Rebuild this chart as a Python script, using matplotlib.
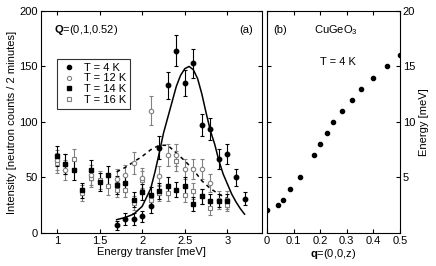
import matplotlib
matplotlib.use('Agg')
import matplotlib.pyplot as plt
from matplotlib.lines import Line2D
import numpy as np

plt.rcParams['font.family'] = ['Liberation Sans', 'DejaVu Sans']
plt.rcParams['font.size'] = 8
plt.rcParams['mathtext.fontset'] = 'custom'
plt.rcParams['mathtext.rm'] = 'Liberation Sans'
plt.rcParams['mathtext.bf'] = 'Liberation Sans:bold'

# panel (a): intensity vs energy transfer
e4 = [1.7, 1.8, 1.9, 2.0, 2.1, 2.2, 2.3, 2.4, 2.5, 2.6, 2.7, 2.8, 2.9, 3.0, 3.1, 3.2]
i4 = [7, 12.6, 12.6, 15, 24, 77, 133, 164, 135, 153, 97, 94, 67, 71, 50, 31]
err4 = [4, 5, 5, 5, 6, 10, 12, 14, 12, 13, 10, 10, 9, 9, 8, 6]

e12 = [1.0, 1.1, 1.4, 1.7, 1.8, 1.9, 2.0, 2.1, 2.2, 2.3, 2.4, 2.5, 2.6, 2.7, 2.8, 2.9, 3.0]
i12 = [66, 57, 52.5, 48.6, 52.5, 63, 49.5, 110, 51, 70.6, 70.6, 58, 58, 58, 45, 30, 30]
err12 = [9, 9, 9, 9, 9, 10, 9, 13, 9, 10, 10, 9, 9, 9, 8, 8, 8]

e14 = [1.0, 1.1, 1.2, 1.3, 1.4, 1.5, 1.6, 1.7, 1.8, 1.9, 2.0, 2.1, 2.2, 2.3, 2.4, 2.5, 2.6, 2.7, 2.8, 2.9, 3.0]
i14 = [69.7, 62.5, 56.5, 38.4, 57, 46, 52, 43, 45, 30, 37, 34.5, 38, 42, 39, 42, 26, 33, 29, 29, 29]
err14 = [9, 9, 9, 7, 9, 8, 8, 8, 8, 7, 7, 7, 7, 8, 7, 8, 6, 7, 6, 6, 6]

e16 = [1.0, 1.1, 1.2, 1.3, 1.4, 1.5, 1.6, 1.7, 1.8, 1.9, 2.0, 2.1, 2.2, 2.3, 2.4, 2.5, 2.6, 2.7, 2.8, 3.0]
i16 = [63, 62, 66.7, 36, 49.5, 48, 42, 39, 39, 27, 48, 30, 36, 36, 64.6, 34.5, 38, 33, 22.5, 25.5]
err16 = [9, 9, 9, 7, 8, 8, 8, 7, 7, 6, 8, 6, 7, 7, 9, 7, 7, 7, 6, 6]

# fit curves
fit4_e = [1.7, 1.8, 1.9, 2.0, 2.1, 2.15, 2.2, 2.25, 2.3, 2.35, 2.4, 2.45, 2.5, 2.55,
          2.6, 2.65, 2.7, 2.75, 2.8, 2.85, 2.9, 2.95, 3.0, 3.05, 3.1, 3.15, 3.2]
fit4_i = [12, 14, 17, 24, 40, 55, 72, 90, 104, 118, 132, 142, 148, 150,
          147, 139, 125, 108, 92, 80, 65, 53, 44, 35, 28, 22, 17]
fit12_e = [1.7, 1.8, 1.9, 2.0, 2.1, 2.2, 2.3, 2.4, 2.5, 2.6, 2.7, 2.8, 2.9, 3.0]
fit12_i = [55, 59, 64, 69, 75, 79, 79, 72, 65, 57, 47, 40, 35, 31]

# panel (b): dispersion
qz = [0, 0.04, 0.062, 0.088, 0.125, 0.175, 0.2, 0.225, 0.25, 0.283, 0.32, 0.355, 0.4, 0.45, 0.5]
energy = [2.1, 2.5, 3, 4, 5, 7, 8, 9, 10, 11, 12, 13, 14, 15, 16]

fig = plt.figure(figsize=(4.36, 2.66), dpi=100)
ax = fig.add_axes([0.0933, 0.124, 0.5067, 0.835])
bx = fig.add_axes([0.6124, 0.124, 0.3050, 0.835])

gray = '#808080'
kw = dict(elinewidth=0.8, capsize=1.5, capthick=0.8, linestyle='none')
ax.errorbar(e16, i16, yerr=err16, fmt='s', ms=3.5, mfc='white', mec=gray, ecolor=gray,
            mew=0.8, **kw)
ax.errorbar(e12, i12, yerr=err12, fmt='o', ms=3.2, mfc='white', mec=gray, ecolor=gray,
            mew=0.8, **kw)
ax.errorbar(e14, i14, yerr=err14, fmt='s', ms=3.5, color='black', **kw)
ax.errorbar(e4, i4, yerr=err4, fmt='o', ms=3.2, color='black', **kw)
ax.plot(fit4_e, fit4_i, color='black', lw=1.1)
ax.plot(fit12_e, fit12_i, color='black', lw=1.1, ls=(0, (2.5, 2.5)))

ax.set_xlim(0.81, 3.4)
ax.set_ylim(0, 200)
ax.set_xticks([1, 1.5, 2, 2.5, 3])
ax.set_xticklabels(['1', '1.5', '2', '2.5', '3'])
ax.set_yticks([0, 50, 100, 150, 200])
ax.set_xlabel('Energy transfer [meV]', labelpad=1)
ax.set_ylabel('Intensity [neutron counts / 2 minutes]', labelpad=2)
ax.tick_params(direction='in', top=True, right=True, length=3, pad=2)
ax.text(0.06, 0.9, r'$\mathbf{Q}$=(0,1,0.52)', transform=ax.transAxes, fontsize=8)
ax.text(0.9, 0.9, '(a)', transform=ax.transAxes, fontsize=8)

handles = [
    Line2D([], [], ls='none', marker='o', ms=3, color='black'),
    Line2D([], [], ls='none', marker='o', ms=3, mfc='white', mec=gray, mew=0.8),
    Line2D([], [], ls='none', marker='s', ms=3.2, color='black'),
    Line2D([], [], ls='none', marker='s', ms=3.2, mfc='white', mec=gray, mew=0.8),
]
labels = ['T = 4 K', 'T = 12 K', 'T = 14 K', 'T = 16 K']
leg = ax.legend(handles, labels, loc='upper left',
                bbox_to_anchor=(0.072, 0.785), borderaxespad=0, frameon=True,
                fancybox=False, edgecolor='black', handlelength=1.6, handletextpad=0.5,
                borderpad=0.35, labelspacing=0.08, fontsize=8)
leg.get_frame().set_linewidth(0.8)

bx.plot(qz, energy, 'o', color='black', ms=3)
bx.set_xlim(0, 0.5)
bx.set_ylim(0, 20)
bx.set_xticks([0, 0.1, 0.2, 0.3, 0.4, 0.5])
bx.set_xticklabels(['0', '0.1', '0.2', '0.3', '0.4', '0.5'])
bx.set_yticks([5, 10, 15, 20])
bx.yaxis.set_label_position('right')
bx.yaxis.tick_right()
bx.tick_params(direction='in', top=True, left=True, length=3, pad=2)
bx.set_xlabel(r'$\mathbf{q}$=(0,0,z)', labelpad=1)
bx.set_ylabel('Energy [meV]', labelpad=3)
bx.text(0.05, 0.9, '(b)', transform=bx.transAxes, fontsize=8)
bx.text(0.35, 0.9, r'CuGeO$_3$', transform=bx.transAxes, fontsize=8)
bx.text(0.4, 0.755, 'T = 4 K', transform=bx.transAxes, fontsize=8)

fig.savefig('out.png', dpi=100)
